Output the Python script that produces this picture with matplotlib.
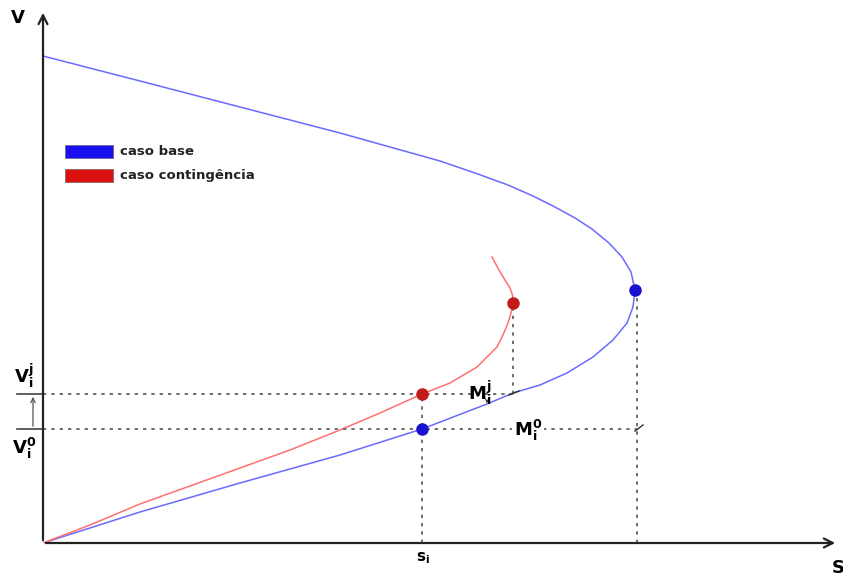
import matplotlib.pyplot as plt
from matplotlib.patches import Rectangle

plt.rcParams['mathtext.fontset'] = 'dejavusans'

# PV curves (S, V) - base case and contingency case
s_base = [0.00, 0.97, 1.97, 2.97, 3.79, 4.44, 4.70, 4.97, 5.24, 5.50, 5.70,
          5.84, 5.90, 5.92, 5.88, 5.79, 5.66, 5.49, 5.32, 5.12, 4.90, 4.65,
          4.32, 3.97, 2.97, 1.97, 0.97, 0.00]
v_base = [0.00, 0.31, 0.60, 0.88, 1.14, 1.39, 1.50, 1.58, 1.70, 1.86, 2.03,
          2.20, 2.36, 2.53, 2.71, 2.86, 3.00, 3.14, 3.25, 3.36, 3.47, 3.58,
          3.70, 3.82, 4.10, 4.36, 4.62, 4.87]

s_cont = [0.00, 0.47, 0.97, 1.47, 1.97, 2.47, 2.97, 3.37, 3.79, 4.07, 4.34,
          4.54, 4.60, 4.65, 4.68, 4.70, 4.695, 4.67, 4.62, 4.56, 4.49]
v_cont = [0.00, 0.18, 0.39, 0.57, 0.75, 0.93, 1.13, 1.30, 1.49, 1.60, 1.76,
          1.96, 2.08, 2.20, 2.30, 2.40, 2.48, 2.55, 2.63, 2.73, 2.86]

# operating points
s_i = 3.79
v_i0 = 1.14
v_ij = 1.49
s_nose_base, v_nose_base = 5.92, 2.53
s_nose_cont, v_nose_cont = 4.70, 2.40

legend_labels = ['caso base', 'caso contingência']
legend_colors = ['#1a10f0', '#dd1010']

fig = plt.figure(figsize=(8.43, 5.78), dpi=100)
ax = fig.add_axes([43/843, 35/578, 795/843, 533/578])
ax.set_xlim(0, 7.95)
ax.set_ylim(0, 5.33)
ax.axis('off')

# axes with arrows
ax.annotate('', xy=(7.95, 0), xytext=(0, 0), annotation_clip=False,
            arrowprops=dict(arrowstyle='->', lw=1.6, color='#222222', mutation_scale=16))
ax.annotate('', xy=(0, 5.33), xytext=(0, 0), annotation_clip=False,
            arrowprops=dict(arrowstyle='->', lw=1.6, color='#222222', mutation_scale=16))

# curves
ax.plot(s_base, v_base, color='#6a6aff', lw=1.1)
ax.plot(s_cont, v_cont, color='#ff6f6f', lw=1.1)

# guide lines
dash = dict(color='#555555', lw=1.2, ls=(0, (2, 3)))
ax.plot([0, 4.72], [v_ij, v_ij], **dash)
ax.plot([0, 5.94], [v_i0, v_i0], **dash)
ax.plot([s_i, s_i], [0, v_ij], **dash)
ax.plot([s_nose_cont, s_nose_cont], [v_ij, v_nose_cont], **dash)
ax.plot([s_nose_base + 0.02, s_nose_base + 0.02], [0, v_nose_base], **dash)

# voltage levels on the V axis
ax.plot([-0.26, 0], [v_ij, v_ij], color='#444444', lw=1.2, clip_on=False)
ax.plot([-0.26, 0], [v_i0, v_i0], color='#444444', lw=1.2, clip_on=False)
ax.annotate('', xy=(-0.10, v_ij), xytext=(-0.10, v_i0), annotation_clip=False,
            arrowprops=dict(arrowstyle='->', lw=0.9, color='#555555', mutation_scale=8))

# operating points
ax.plot([s_i], [v_i0], 'o', color='#1a10d0', ms=8, zorder=5)
ax.plot([s_i], [v_ij], 'o', color='#c41a1a', ms=8, zorder=5)
ax.plot([s_nose_base], [v_nose_base], 'o', color='#1a10d0', ms=8, zorder=5)
ax.plot([s_nose_cont], [v_nose_cont], 'o', color='#c41a1a', ms=8, zorder=5)

# small margin markers
ax.annotate('', xy=(4.44, 1.37), xytext=(4.44, 1.45),
            arrowprops=dict(arrowstyle='->', lw=0.8, color='#333333', mutation_scale=6))
ax.plot([4.66, 4.76], [1.48, 1.52], color='#333333', lw=1)
ax.plot([5.92, 6.00], [1.12, 1.18], color='#333333', lw=1)

# labels
ax.text(-0.25, 5.25, 'V', fontsize=13, fontweight='bold', ha='center', va='center',
        clip_on=False)
ax.text(7.95, -0.25, 'S', fontsize=13, fontweight='bold', ha='center', va='center',
        clip_on=False)
ax.text(s_i + 0.01, -0.15, r'$\mathbf{s_i}$', fontsize=11, ha='center', va='center',
        clip_on=False)
ax.text(-0.19, 1.67, r'$\mathbf{V_i^j}$', fontsize=13, ha='center', va='center',
        clip_on=False)
ax.text(-0.19, 0.95, r'$\mathbf{V_i^0}$', fontsize=13, ha='center', va='center',
        clip_on=False)
ax.text(4.37, 1.50, r'$\mathbf{M_i^j}$', fontsize=13, ha='center', va='center')
ax.text(4.85, 1.13, r'$\mathbf{M_i^0}$', fontsize=13, ha='center', va='center',
        bbox=dict(facecolor='white', edgecolor='none', pad=1))

# legend boxes
for k, (label, col) in enumerate(zip(legend_labels, legend_colors)):
    y0 = 3.85 - 0.235 * k
    ax.add_patch(Rectangle((0.22, y0), 0.48, 0.13, facecolor=col, edgecolor='#555555',
                           lw=0.4))
    ax.text(0.77, y0 + 0.065, label, fontsize=9.5, fontweight='bold', ha='left',
            va='center', color='#222222')

fig.savefig('out.png', dpi=100)
